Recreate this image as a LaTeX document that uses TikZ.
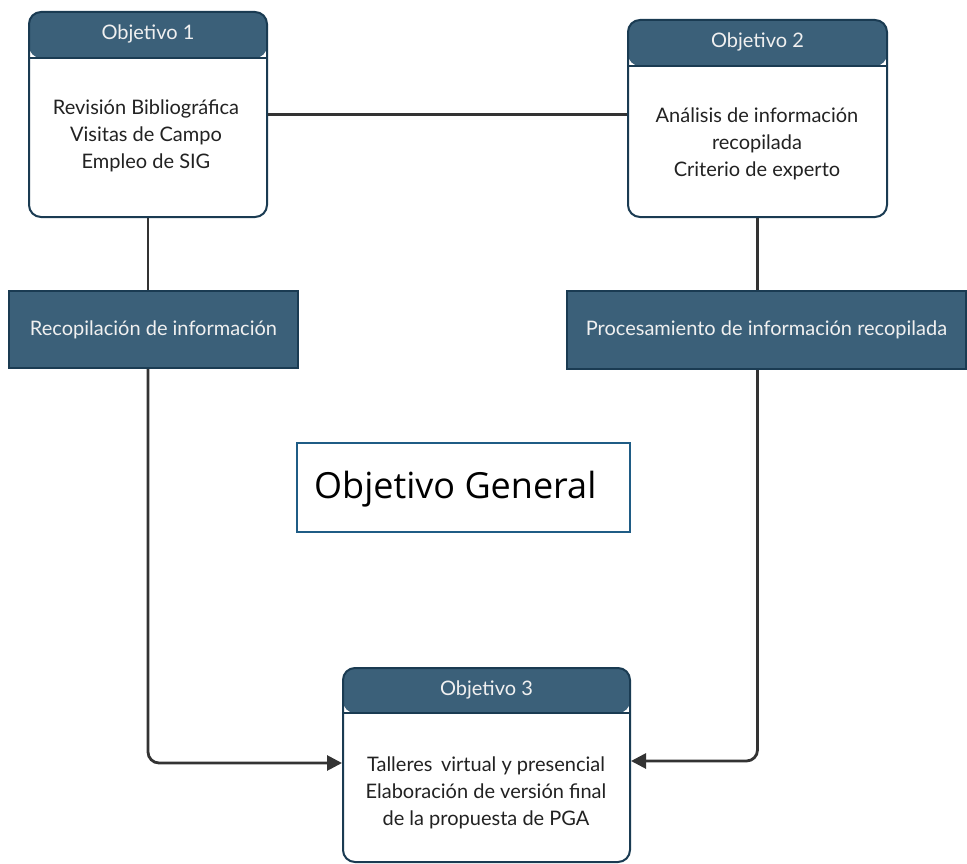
\documentclass[tikz,border=0pt]{standalone}
\usepackage{fontspec}
\setmainfont{Lato}
\newfontfamily\genfont{Open Sans}
\usetikzlibrary{arrows.meta}
\definecolor{headblue}{HTML}{3B6079}
\definecolor{edgeblue}{HTML}{1A3B52}
\definecolor{linegray}{HTML}{333333}
\definecolor{genedge}{HTML}{1F5C85}
\definecolor{bodyink}{HTML}{222222}

\begin{document}
\begin{tikzpicture}[x=1pt,y=-1pt,
  objbox/.style={draw=edgeblue, line width=2pt, rounded corners=12pt, fill=white,
    inner sep=0pt},
  hdr/.style={path picture={
      \fill[headblue] (path picture bounding box.north west)
        rectangle ([yshift=-#1]path picture bounding box.north east);
      \draw[edgeblue, line width=2pt] ([yshift=-#1]path picture bounding box.north west)
        -- ([yshift=-#1]path picture bounding box.north east);}},
  hdrtext/.style={text=white!94!black, font=\fontsize{20}{24}\selectfont, inner sep=0pt},
  bodytext/.style={text=bodyink, align=center, font=\fontsize{20}{27}\selectfont, inner sep=0pt},
  stagebox/.style={draw=edgeblue, line width=2pt, fill=headblue, text=white!94!black,
    font=\fontsize{20}{24}\selectfont, inner sep=0pt},
  conn/.style={draw=linegray, line width=2.8pt},
  arr/.style={conn, rounded corners=11pt, -{Triangle[length=15pt,width=15pt]}}
]
\useasboundingbox (0,0) rectangle (967,864);

% objective cards
\node[objbox, hdr=46pt, minimum width=238pt, minimum height=205pt] (obj1) at (148,114.5) {};
\node[hdrtext] (obj1h) at ([yshift=-23pt]obj1.north) {Objetivo 1};
\node[bodytext] (obj1b) at (146,136) {Revisión Bibliográfica\\Visitas de Campo\\Empleo de SIG};

\node[objbox, hdr=46pt, minimum width=259pt, minimum height=197pt] (obj2) at (757.5,118.5) {};
\node[hdrtext] (obj2h) at ([yshift=-23pt]obj2.north) {Objetivo 2};
\node[bodytext] (obj2b) at (757,144) {Análisis de información\\recopilada\\Criterio de experto};

\node[objbox, hdr=45pt, minimum width=287pt, minimum height=194pt] (obj3) at (486.5,765) {};
\node[hdrtext] (obj3h) at ([yshift=-22.5pt]obj3.north) {Objetivo 3};
\node[bodytext] (obj3b) at (486,793) {Talleres\, virtual y presencial\\Elaboración de versión final\\de la propuesta de PGA};

% stage boxes
\node[stagebox, minimum width=289pt, minimum height=77pt] (recop) at (153.5,329.5) {Recopilación de información};
\node[stagebox, minimum width=399pt, minimum height=78pt] (proc) at (766.5,330) {Procesamiento de información recopilada};

% general objective
\node[draw=genedge, line width=1.5pt, minimum width=333pt, minimum height=89pt, inner sep=0pt] (gen) at (463.5,487.5) {};
\node[anchor=west, inner sep=0pt, font=\genfont\fontsize{36}{40}\selectfont, text=black] (gent) at (314,489) {Objetivo General};

% connectors
\coordinate (c1) at (obj1.south |- recop.south);
\coordinate (c2) at (obj2.south |- proc.south);
\draw[conn] (obj1.east) -- ([yshift=4pt]obj2.west);
\draw[conn] (obj1.south) -- (obj1.south |- recop.north);
\draw[conn] (obj2.south) -- (obj2.south |- proc.north);
\draw[arr] (c1) |- ([yshift=2pt]obj3.west);
\draw[arr] (c2) |- ([yshift=4pt]obj3.east);
\end{tikzpicture}
\end{document}
